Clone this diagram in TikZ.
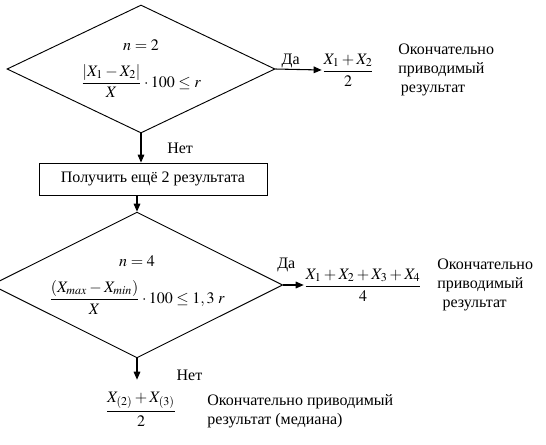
\documentclass[tikz,border=0pt]{standalone}
\usepackage{amsmath}
\usepackage{mathptmx}
\usepackage{fontspec}
\setmainfont{Liberation Serif}
\usepackage{tikz}
\usetikzlibrary{arrows.meta, positioning, shapes.geometric}

\begin{document}
\begin{tikzpicture}[
  x=0.75pt, y=-0.75pt,
  every node/.style={font=\fontsize{12}{14}\selectfont},
  cond/.style     = {diamond, draw=black, aspect=2, inner sep=0pt, align=center, line width=0.7pt},
  stepbox/.style  = {rectangle, draw=black, minimum width=171pt, minimum height=24pt, inner sep=2pt, line width=0.6pt},
  frac/.style     = {inner sep=0pt},
  note/.style     = {anchor=west, align=left, inner sep=0pt},
  arrow/.style    = {-{Triangle[length=6pt, width=5pt]}, line width=0.8pt}
]
\useasboundingbox (0,0) rectangle (546,444);

%% first check, n = 2
\node[cond, minimum width=201pt, minimum height=96pt] (check2) at (141,69)
  {$n=2$\\[9pt] $\dfrac{\left|X_1-X_2\right|}{X}\cdot 100\le r$};
\node[frac] (mean2) at (348,70) {$\dfrac{X_1+X_2}{2}$};
\node[note] (final2) at (398,70)
  {\baselineskip=15pt Окончательно\\приводимый\\\hspace*{2pt}результат};

%% two more results
\node[stepbox] (more) at (153,179) {Получить ещё 2 результата};

%% second check, n = 4
\node[cond, minimum width=193pt, minimum height=97.5pt] (check4) at (137,285)
  {$n=4$\\[9pt] $\dfrac{\left(X_{max}-X_{min}\right)}{X}\cdot 100\le 1,3\;r$};
\node[frac] (mean4) at (363,285) {$\dfrac{X_1+X_2+X_3+X_4}{4}$};
\node[note] (final4) at (437,285)
  {\baselineskip=13.5pt Окончательно\\приводимый\\\hspace*{4pt}результат};

%% median
\node[frac] (median) at (141,409) {$\dfrac{X_{(2)}+X_{(3)}}{2}$};
\node[note] (finalm) at (207,411)
  {\baselineskip=16.5pt Окончательно приводимый\\результат (медиана)};

%% Arrows
\draw[arrow] (check2.east) -- node[above, pos=0.33, inner sep=1pt] {Да} (mean2.west);
\draw[arrow] (check2.south) -- node[right=16pt] {Нет} (check2.south |- more.north);
\draw[arrow] (more.south -| check4.north) -- (check4.north);
\draw[arrow] (check4.east) -- node[above=6pt, pos=0.15] {Да} (mean4.west);
\draw[arrow, shorten >=9pt] (check4.south) -- node[right=26pt] {Нет} (check4.south |- median.north);
\end{tikzpicture}
\end{document}
